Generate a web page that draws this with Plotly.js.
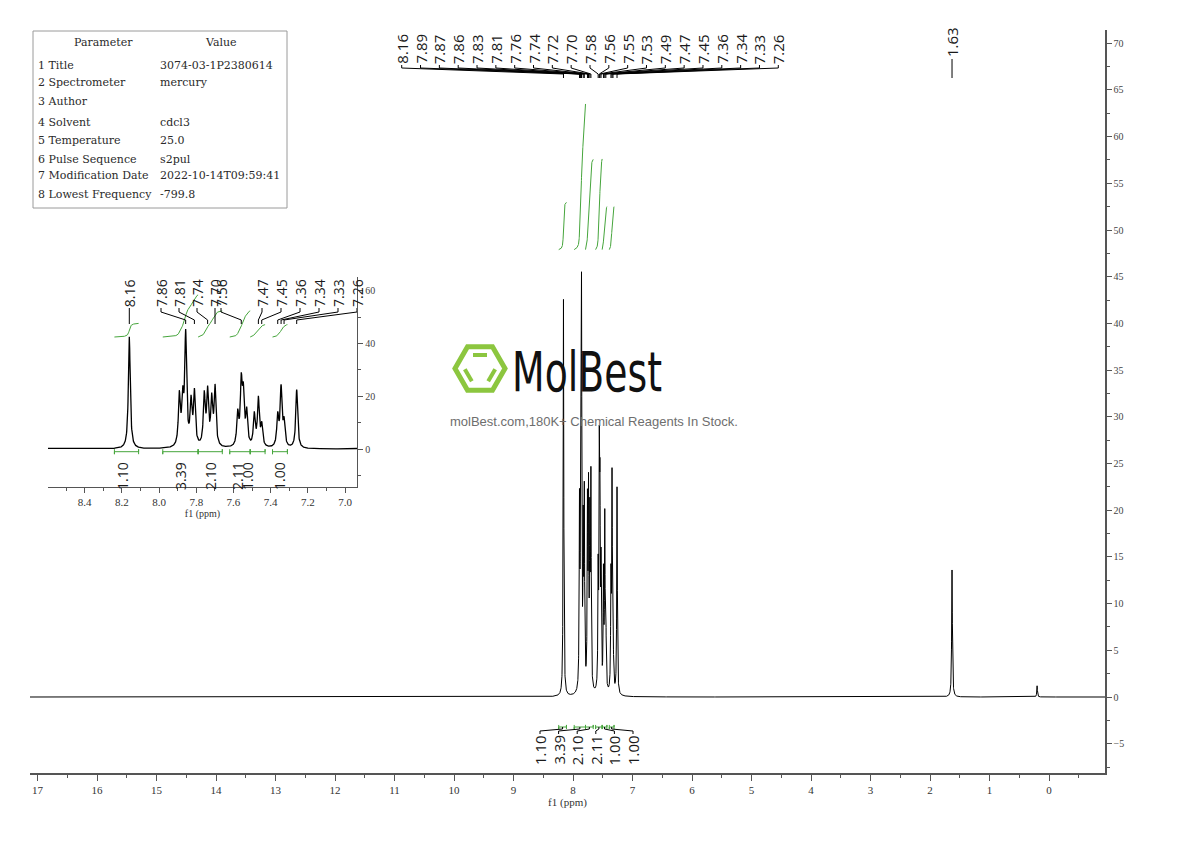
<!DOCTYPE html>
<html><head><meta charset="utf-8">
<script src="https://cdn.plot.ly/plotly-3.0.1.min.js"></script>
<style>html,body{margin:0;padding:0;background:#fff}#chart{width:1190px;height:841px}</style>
</head><body><div id="chart"></div>
<script>
// ---------------- DATA ----------------
const peakPpm    = [8.160, 7.891, 7.873, 7.857, 7.828, 7.810, 7.757, 7.739, 7.717, 7.699, 7.577, 7.558, 7.547, 7.529, 7.488, 7.466, 7.448, 7.362, 7.344, 7.328, 7.260, 1.630, 0.200];
const peakHeight = [42.5, 19.0, 16.5, 41.7, 16.0, 20.0, 19.0, 20.0, 17.0, 22.0, 12.0, 23.0, 18.0, 12.5, 12.0, 18.0, 8.0, 11.5, 22.0, 9.0, 22.2, 13.6, 1.2];
const peakWidth  = [0.012, 0.012, 0.012, 0.012, 0.012, 0.012, 0.012, 0.012, 0.012, 0.012, 0.012, 0.012, 0.012, 0.012, 0.012, 0.012, 0.012, 0.012, 0.012, 0.012, 0.012, 0.014, 0.012];
const mainPeakLabels  = ['8.16','7.89','7.87','7.86','7.83','7.81','7.76','7.74','7.72','7.70','7.58','7.56','7.55','7.53','7.49','7.47','7.45','7.36','7.34','7.33','7.26'];
const singlePeakLabels = ['1.63'];
const insetPeakLabels = ['8.16','7.86','7.81','7.74','7.70','7.56','7.47','7.45','7.36','7.34','7.33','7.26'];
const integralFrom  = [8.24, 7.98, 7.79, 7.62, 7.51, 7.39];
const integralTo    = [8.11, 7.79, 7.66, 7.51, 7.43, 7.31];
const integralValue = [1.10, 3.39, 2.10, 2.11, 1.00, 1.00];
const paramNames  = ['1 Title','2 Spectrometer','3 Author','4 Solvent','5 Temperature','6 Pulse Sequence','7 Modification Date','8 Lowest Frequency'];
const paramValues = ['3074-03-1P2380614','mercury','','cdcl3','25.0','s2pul','2022-10-14T09:59:41','-799.8'];

// ---------------- geometry helpers (layout only) ----------------
const mainX = px => (1049 - px) / 59.5;
const mainY = py => (697 - py) / 9.34;
const insX  = px => 8.16 - (px - 129.3) / 186;
const insY  = py => (449 - py) / 2.635;
const papX  = px => (px - 30) / 1075;
const papY  = py => 1 - (py - 30) / 743;

const GREEN = 'rgb(70,165,60)';
const LABELFONT = {family:'Open Sans, DejaVu Sans, sans-serif', size:15, color:'#1a1a1a'};
const SERIF = 'Liberation Serif, DejaVu Serif, serif';

// ---------------- spectrum from peak table ----------------
const xs = new Set();
function addRange(a, b, step){ const n = Math.round((b - a) / step); for(let i = 0; i <= n; i++){ xs.add(Math.round((a + i*step) * 1000) / 1000); } }
addRange(-0.95, 17.14, 0.01);
addRange(7.05, 8.45, 0.001);
addRange(1.50, 1.76, 0.001);
addRange(0.12, 0.28, 0.001);
peakPpm.forEach(p => xs.add(p));
const specX = Array.from(xs).sort((a, b) => b - a);
const specY = specX.map(x => {
  let s = 0;
  for(let i = 0; i < peakPpm.length; i++){
    const d = (x - peakPpm[i]) / (peakWidth[i] / 2);
    s += peakHeight[i] / (1 + d*d);
  }
  return s;
});

// integral curves built from the spectrum
function integralCurves(base, scale){
  const X = [], Y = [];
  for(let r = 0; r < integralFrom.length; r++){
    const idx = [];
    specX.forEach((x, i) => { if(x <= integralFrom[r] && x >= integralTo[r]) idx.push(i); });
    let cum = [0];
    for(let k = 1; k < idx.length; k++){
      const a = idx[k-1], b = idx[k];
      cum.push(cum[k-1] + (specY[a] + specY[b]) / 2 * (specX[a] - specX[b]));
    }
    const tot = cum[cum.length - 1];
    idx.forEach((i, k) => { X.push(specX[i]); Y.push(base + integralValue[r] * scale * cum[k] / tot); });
    X.push(null); Y.push(null);
  }
  return {X, Y};
}
function integralBars(yb, tick){
  const X = [], Y = [];
  for(let r = 0; r < integralFrom.length; r++){
    X.push(integralFrom[r], integralFrom[r], integralFrom[r], integralTo[r], integralTo[r], integralTo[r], null);
    Y.push(yb + tick, yb - tick, yb, yb, yb + tick, yb - tick, null);
  }
  return {X, Y};
}
const mInt = integralCurves(47.9, 4.6);
const iInt = integralCurves(42.5, 4.7);
const mBar = integralBars(mainY(727), 0.22);
const iBar = integralBars(insY(451.7), 0.95);

const data = [
  {x: specX, y: specY, type:'scatter', mode:'lines', line:{color:'#000', width:1}, xaxis:'x', yaxis:'y', hoverinfo:'skip'},
  {x: mInt.X, y: mInt.Y, type:'scatter', mode:'lines', line:{color:GREEN, width:1}, xaxis:'x', yaxis:'y', hoverinfo:'skip', connectgaps:false},
  {x: mBar.X, y: mBar.Y, type:'scatter', mode:'lines', line:{color:GREEN, width:1}, xaxis:'x', yaxis:'y', hoverinfo:'skip'},
  {x: specX, y: specY, type:'scatter', mode:'lines', line:{color:'#000', width:1.3}, xaxis:'x2', yaxis:'y2', hoverinfo:'skip'},
  {x: iInt.X, y: iInt.Y, type:'scatter', mode:'lines', line:{color:GREEN, width:1}, xaxis:'x2', yaxis:'y2', hoverinfo:'skip'},
  {x: iBar.X, y: iBar.Y, type:'scatter', mode:'lines', line:{color:GREEN, width:1}, xaxis:'x2', yaxis:'y2', hoverinfo:'skip'}
];

// ---------------- annotations & shapes ----------------
const annotations = [], shapes = [];
const peakFor = lab => peakPpm.find(p => p.toFixed(2) === lab);

// main multiplet labels
mainPeakLabels.forEach((lab, i) => {
  const lx = mainX(401.7 + i * 18.83), px = peakFor(lab);
  annotations.push({x: lx, y: mainY(65), xref:'x', yref:'y', text: lab, textangle:-90, showarrow:false, xanchor:'center', yanchor:'bottom', font: LABELFONT, borderpad:0});
  shapes.push({type:'path', xref:'x', yref:'y', line:{color:'#000', width:1},
    path:`M${lx},${mainY(65)} L${lx},${mainY(68)} L${px},${mainY(74)} L${px},${mainY(78)}`});
});
// single peak label
singlePeakLabels.forEach(lab => {
  const px = peakFor(lab);
  annotations.push({x: px, y: mainY(58), xref:'x', yref:'y', text: lab, textangle:-90, showarrow:false, xanchor:'center', yanchor:'bottom', font: LABELFONT, borderpad:0});
  shapes.push({type:'path', xref:'x', yref:'y', line:{color:'#000', width:1}, path:`M${px},${mainY(59)} L${px},${mainY(78)}`});
});
// inset labels
const insetLabelPx = [129.3, 161, 179, 197, 215, 221, 262, 281, 300, 319, 338, 357];
insetPeakLabels.forEach((lab, i) => {
  const lx = insX(insetLabelPx[i]), px = peakFor(lab);
  annotations.push({x: lx, y: insY(308), xref:'x2', yref:'y2', text: lab, textangle:-90, showarrow:false, xanchor:'center', yanchor:'bottom', font:{...LABELFONT, size:14}, borderpad:0});
  shapes.push({type:'path', xref:'x2', yref:'y2', line:{color:'#000', width:1},
    path:`M${lx},${insY(308)} L${lx},${insY(312)} L${px},${insY(320)} L${px},${insY(324)}`});
});
// main integral labels with brackets
integralValue.forEach((v, i) => {
  const lx = mainX(540 + i * 18.6), cx = (integralFrom[i] + integralTo[i]) / 2;
  annotations.push({x: lx, y: mainY(734), xref:'x', yref:'y', text: v.toFixed(2), textangle:-90, showarrow:false, xanchor:'center', yanchor:'top', font: LABELFONT, borderpad:0});
  shapes.push({type:'path', xref:'x', yref:'y', line:{color:'#000', width:1},
    path:`M${cx},${mainY(727)} L${cx},${mainY(729)} L${lx},${mainY(731)} L${lx},${mainY(734)}`});
});
// inset integral labels
const insetIntLabelPx = [122, 180, 210, 237, 247, 279];
integralValue.forEach((v, i) => {
  annotations.push({x: insX(insetIntLabelPx[i]), y: insY(461), xref:'x2', yref:'y2', text: v.toFixed(2), textangle:-90, showarrow:false, xanchor:'center', yanchor:'top', font:{...LABELFONT, size:14}, borderpad:0});
});

// parameter table
shapes.push({type:'rect', xref:'paper', yref:'paper', x0: papX(33), x1: papX(287), y0: papY(31), y1: papY(208), line:{color:'#9a9a9a', width:1}, fillcolor:'rgba(0,0,0,0)'});
const TFONT = {family: 'DejaVu Serif, serif', size: 11, color:'#2a2a2a'};
annotations.push({x: papX(103), y: papY(43), xref:'paper', yref:'paper', text:'Parameter', showarrow:false, xanchor:'center', yanchor:'middle', font: TFONT});
annotations.push({x: papX(221), y: papY(43), xref:'paper', yref:'paper', text:'Value', showarrow:false, xanchor:'center', yanchor:'middle', font: TFONT});
const rowY = [65, 83, 101, 123, 141, 159, 176, 194];
paramNames.forEach((n, i) => {
  annotations.push({x: papX(36), y: papY(rowY[i]), xref:'paper', yref:'paper', text:n, showarrow:false, xanchor:'left', yanchor:'middle', font: TFONT});
  if(paramValues[i]) annotations.push({x: papX(158), y: papY(rowY[i]), xref:'paper', yref:'paper', text:paramValues[i], showarrow:false, xanchor:'left', yanchor:'middle', font: TFONT});
});

// watermark logo
const LOGO = '#8cc63f';
const hcx = 480, hcy = 368.5, R = 25;
let hp = '';
for(let k = 0; k < 6; k++){
  const a = k * Math.PI / 3;
  hp += (k ? ' L' : 'M') + papX(hcx + R*Math.cos(a)) + ',' + papY(hcy + R*Math.sin(a));
}
shapes.push({type:'path', xref:'paper', yref:'paper', path: hp + ' Z', line:{color:LOGO, width:5}, layer:'below'});
[-90, 150, 30].forEach(deg => {
  const a = deg * Math.PI / 180, d = 13.5, half = 7;
  const mx = hcx + d*Math.cos(a), my = hcy + d*Math.sin(a);
  const tx = -Math.sin(a), ty = Math.cos(a);
  shapes.push({type:'line', xref:'paper', yref:'paper', layer:'below', line:{color:LOGO, width:4},
    x0: papX(mx - half*tx), y0: papY(my - half*ty), x1: papX(mx + half*tx), y1: papY(my + half*ty)});
});
annotations.push({x: papX(587), y: papY(372), xref:'paper', yref:'paper', text:'MolBest', showarrow:false, xanchor:'center', yanchor:'middle', font:{family:'DejaVu Sans, sans-serif', size:55, color:'#111'}});
annotations.push({x: papX(594), y: papY(421), xref:'paper', yref:'paper', text:'molBest.com,180K+ Chemical Reagents In Stock.', showarrow:false, xanchor:'center', yanchor:'middle', font:{family:'Liberation Sans, Arial, sans-serif', size:13, color:'#6e6e6e'}});

const AX = '#555';
const layout = {
  width:1190, height:841, paper_bgcolor:'#fff', plot_bgcolor:'rgba(0,0,0,0)', showlegend:false,
  margin:{l:30, r:85, t:30, b:68, pad:0},
  xaxis:{domain:[0,1], anchor:'y', range:[mainX(30), mainX(1105)], showgrid:false, zeroline:false, showline:true, linecolor:AX, linewidth:1.5,
    ticks:'outside', ticklen:6, tickwidth:1, tickcolor:AX, dtick:1, tick0:0, tickfont:{family:SERIF, size:11, color:'#333'},
    minor:{dtick:0.5, ticks:'outside', ticklen:3, tickcolor:AX, showgrid:false},
    title:{text:'f1 (ppm)', font:{family:SERIF, size:11, color:'#333'}, standoff:2}},
  yaxis:{domain:[0,1], anchor:'x', side:'right', range:[mainY(773), mainY(30)], showgrid:false, zeroline:false, showline:true, linecolor:AX, linewidth:1.5,
    ticks:'outside', ticklen:5, tickwidth:1, tickcolor:AX, dtick:5, tick0:0, tickfont:{family:SERIF, size:10, color:'#444'},
    minor:{dtick:2.5, ticks:'outside', ticklen:3, tickcolor:AX, showgrid:false}},
  xaxis2:{domain:[papX(48), papX(357)], anchor:'y2', range:[insX(48), insX(357)], showgrid:false, zeroline:false, showline:true, linecolor:AX, linewidth:1.2,
    ticks:'outside', ticklen:5, tickwidth:1, tickcolor:AX, dtick:0.2, tick0:0, tickformat:'.1f', tickfont:{family:SERIF, size:11, color:'#333'},
    minor:{dtick:0.1, ticks:'outside', ticklen:3, tickcolor:AX, showgrid:false},
    title:{text:'f1 (ppm)', font:{family:SERIF, size:10, color:'#333'}, standoff:0}},
  yaxis2:{domain:[papY(487), papY(277)], anchor:'x2', side:'right', range:[insY(487), insY(277)], showgrid:false, zeroline:false, showline:true, linecolor:AX, linewidth:1.2,
    ticks:'outside', ticklen:5, tickwidth:1, tickcolor:AX, dtick:20, tick0:0, tickfont:{family:SERIF, size:10, color:'#444'},
    minor:{dtick:10, ticks:'outside', ticklen:3, tickcolor:AX, showgrid:false}},
  annotations, shapes
};

Plotly.newPlot('chart', data, layout, {staticPlot:true, displayModeBar:false}).then(gd => {
  gd.querySelectorAll('.annotation-text').forEach(t => {
    if(t.textContent === 'MolBest'){
      const b = t.getBBox();
      const cx = b.x + b.width / 2;
      const sx = 150 / b.width;
      const prev = t.getAttribute('transform') || '';
      t.setAttribute('transform', prev + ` translate(${cx},0) scale(${sx},1) translate(${-cx},0)`);
    }
  });
});
</script>
</body></html>
